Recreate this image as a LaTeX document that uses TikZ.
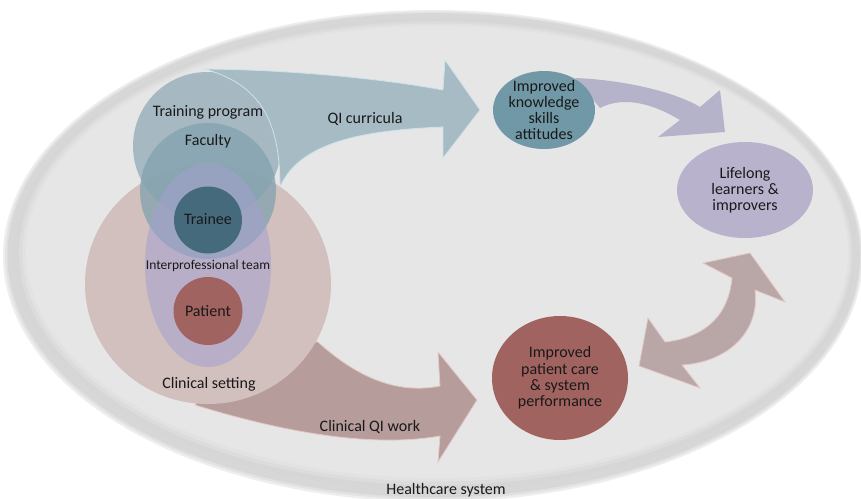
\documentclass[tikz,border=0pt]{standalone}
\usepackage{fontspec}
\setmainfont{Carlito}
\usetikzlibrary{shapes.geometric}

\definecolor{trainblue}{RGB}{145,171,183}
\definecolor{facblue}{RGB}{130,162,174}
\definecolor{qiblue}{RGB}{166,187,196}
\definecolor{qiedge}{RGB}{205,226,234}
\definecolor{clinpink}{RGB}{210,192,190}
\definecolor{teampurple}{RGB}{163,161,208}
\definecolor{traineeteal}{RGB}{69,106,124}
\definecolor{patientred}{RGB}{160,99,96}
\definecolor{clinarrow}{RGB}{183,156,156}
\definecolor{pinkedge}{RGB}{228,200,200}
\definecolor{knowteal}{RGB}{112,152,166}
\definecolor{lifepurple}{RGB}{185,178,205}
\definecolor{purparrow}{RGB}{181,179,202}
\definecolor{loopgray}{RGB}{185,166,166}

\begin{document}
\begin{tikzpicture}[x=1pt,y=-1pt,
  lbl/.style={font=\fontsize{16}{16.2}\selectfont, text=black!90, align=center, inner sep=0pt},
  smalllbl/.style={font=\fontsize{13.5}{14}\selectfont, text=black!90, align=center, inner sep=0pt},
  disc/.style={ellipse, inner sep=0pt, draw=none},
]
\useasboundingbox (0,0) rectangle (861,498);
\fill[white] (0,0) rectangle (861,498);

% healthcare system: large ellipse whose rim fades from outside to inside
\foreach \t/\g in {0/238, 0.1/226, 0.2/215, 0.5/214, 0.7/220, 0.85/226, 1/230} {
  \definecolor{rimstep}{RGB}{\g,\g,\g}
  \fill[rimstep] ({433+4*\t},{256-4*\t}) ellipse [x radius={430-19*\t}, y radius={246-20*\t}];
}

% clinical QI work arrow (tail hidden under the clinical setting)
\filldraw[fill=clinarrow, draw=pinkedge, line width=0.8pt]
  (195,405) .. controls (260,425) and (360,450) .. (440,436)
  -- (438,462) -- (477,400) -- (438,352) -- (440,386)
  .. controls (400,394) and (360,380) .. (318,342)
  -- (250,340) -- cycle;

% clinical setting
\node[disc, fill=clinpink, minimum width=246, minimum height=240] (clin) at (208,284) {};

% training program and faculty
\node[disc, fill=trainblue, fill opacity=0.75, minimum width=148, minimum height=148] (train) at (207,146) {};
\node[disc, fill=facblue, fill opacity=0.75, minimum width=136, minimum height=136] (fac) at (208,191) {};

% QI curricula arrow
\filldraw[fill=qiblue, draw=qiedge, line width=0.8pt]
  (205,69) .. controls (300,70) and (390,80) .. (443,90)
  -- (445,60) -- (480,110) -- (443,158) -- (443,127)
  .. controls (370,130) and (300,140) .. (280,187)
  .. controls (280,120) and (260,85) .. (205,69) -- cycle;

% interprofessional team
\node[disc, fill=teampurple, fill opacity=0.55, minimum width=126, minimum height=204] (team) at (208,265) {};

% trainee and patient
\node[disc, fill=traineeteal, minimum width=68, minimum height=67] (trainee) at (208,220) {};
\node[disc, fill=patientred, minimum width=69, minimum height=68] (patient) at (208,311) {};

% labels of the nested sets
\node[lbl] (trainlbl) at (208,112) {Training program};
\node[lbl] (faclbl) at (208,141) {Faculty};
\node[lbl] (traineelbl) at (208,219) {Trainee};
\node[smalllbl] (teamlbl) at (208,266) {Interprofessional team};
\node[lbl] (patientlbl) at (208,311) {Patient};
\node[lbl] (clinlbl) at (209,384) {Clinical setting};
\node[lbl] (qilbl) at (365,119) {QI curricula};
\node[lbl] (clinqilbl) at (370,427) {Clinical QI work};

% knowledge -> lifelong arrow
\fill[purparrow]
  (575,78) .. controls (625,80) and (675,92) .. (700,107)
  -- (720,90) -- (725,132) -- (658,137) -- (680,120)
  .. controls (655,105) and (625,95) .. (600,108) -- cycle;

% outcomes
\node[disc, fill=knowteal, minimum width=102, minimum height=78] (know) at (544,110) {};
\node[lbl] at (know.center) {Improved\\knowledge\\skills\\attitudes};

\node[disc, fill=lifepurple, minimum width=136, minimum height=96] (life) at (745,190) {};
\node[lbl] at (life.center) {Lifelong\\learners \&\\improvers};

\node[disc, fill=patientred, minimum width=136, minimum height=124] (care) at (560,378) {};
\node[lbl] at (care.center) {Improved\\patient care\\\& system\\performance};

% two-way arrow between care and lifelong learning
\filldraw[fill=loopgray, draw=pinkedge, line width=0.8pt]
  (750,253) -- (785,302) -- (755,290)
  .. controls (760,330) and (730,362) .. (682,365)
  -- (700,388) -- (639,366) -- (648,318) -- (665,342)
  .. controls (700,338) and (728,320) .. (732,278)
  -- (703,263) -- cycle;

\node[lbl] (hcs) at (446,490) {Healthcare system};
\end{tikzpicture}
\end{document}
